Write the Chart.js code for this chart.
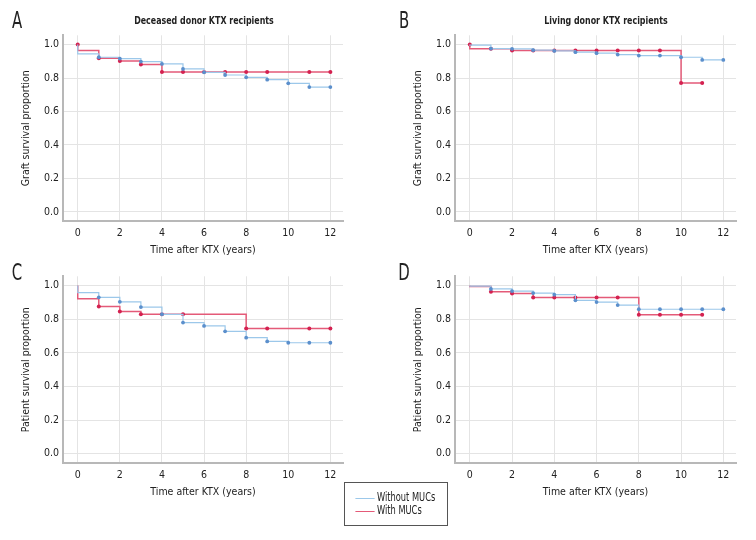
<!DOCTYPE html>
<html lang="en">
<head>
<meta charset="UTF-8">
<title>KTX survival curves</title>
<script src="https://cdn.jsdelivr.net/npm/chart.js"></script>
<style>
  body { margin:0; background:#fff; width:756px; height:540px; position:relative; overflow:hidden;
         font-family:"Liberation Sans Narrow","DejaVu Sans Condensed",sans-serif; color:#222; }
  canvas { position:absolute; }
  .txt { position:absolute; transform:translate(-50%,-50%) scaleX(0.8); line-height:1; white-space:nowrap; }
  .letter { font-size:23px; transform:translate(-50%,-50%) scaleX(0.72); }
  .ptitle { font-size:11px; font-weight:bold; }
  .legend { position:absolute; left:344px; top:482px; width:104px; height:44px; border:1px solid #555;
            box-sizing:border-box; font-size:11.5px; }
  .legend div { position:absolute; left:32px; line-height:1; white-space:nowrap;
                transform:scaleX(0.8); transform-origin:0 50%; }
  .legend span { position:absolute; left:-27px; top:6px; width:24px; height:0; }
</style>
</head>
<body>

<canvas id="cA" width="378" height="270" style="left:0;top:0"></canvas>
<canvas id="cB" width="378" height="270" style="left:378px;top:0"></canvas>
<canvas id="cC" width="378" height="270" style="left:0;top:270px"></canvas>
<canvas id="cD" width="378" height="270" style="left:378px;top:270px"></canvas>

<div class="txt letter" style="left:17px;top:20px">A</div>
<div class="txt letter" style="left:404px;top:20px">B</div>
<div class="txt letter" style="left:17px;top:272px">C</div>
<div class="txt letter" style="left:404px;top:272px">D</div>
<div class="txt ptitle" style="left:204px;top:20px">Deceased donor KTX recipients</div>
<div class="txt ptitle" style="left:606px;top:20px">Living donor KTX recipients</div>

<div class="legend">
  <div style="top:9px"><span style="border-top:1.5px solid #9cc8ea"></span>Without MUCs</div>
  <div style="top:22px"><span style="border-top:1.5px solid #e45a78"></span>With MUCs</div>
</div>

<script>
// tick values
const xTicks = [0, 2, 4, 6, 8, 10, 12];
const yTicks = [0, 0.2, 0.4, 0.6, 0.8, 1.0];
const seriesNames = ["Without MUCs", "With MUCs"];

// A: deceased donor, graft survival
const aWithoutT = [0, 0, 1, 2, 3, 4, 5, 6, 7, 8, 9, 10, 11, 12];
const aWithoutS = [1.0, 0.944, 0.924, 0.916, 0.898, 0.884, 0.854, 0.834, 0.818, 0.804, 0.79, 0.768, 0.746, 0.746];
const aWithT = [0, 0, 1, 2, 3, 4, 5, 6, 7, 8, 9, 11, 12];
const aWithS = [1.0, 0.964, 0.918, 0.902, 0.88, 0.836, 0.836, 0.836, 0.836, 0.836, 0.836, 0.836, 0.836];

// B: living donor, graft survival
const bWithoutT = [0, 0, 1, 2, 3, 4, 5, 6, 7, 8, 9, 10, 11, 12];
const bWithoutS = [1.0, 0.996, 0.976, 0.974, 0.966, 0.962, 0.954, 0.948, 0.94, 0.934, 0.934, 0.924, 0.908, 0.908];
const bWithT = [0, 0, 1, 2, 3, 4, 5, 6, 7, 8, 9, 10, 11];
const bWithS = [1.0, 0.974, 0.974, 0.964, 0.964, 0.964, 0.964, 0.964, 0.964, 0.964, 0.964, 0.77, 0.77];

// C: deceased donor, patient survival
const cWithoutT = [0, 0, 1, 2, 3, 4, 5, 6, 7, 8, 9, 10, 11, 12];
const cWithoutS = [1.0, 0.958, 0.93, 0.903, 0.872, 0.829, 0.78, 0.76, 0.728, 0.69, 0.668, 0.66, 0.66, 0.66];
const cWithT = [0, 0, 1, 2, 3, 4, 5, 8, 9, 11, 12];
const cWithS = [1.0, 0.921, 0.875, 0.845, 0.829, 0.829, 0.829, 0.744, 0.744, 0.744, 0.744];

// D: living donor, patient survival
const dWithoutT = [0, 0, 1, 2, 3, 4, 5, 6, 7, 8, 9, 10, 11, 12];
const dWithoutS = [1.0, 0.997, 0.98, 0.967, 0.955, 0.946, 0.912, 0.902, 0.884, 0.859, 0.859, 0.859, 0.859, 0.859];
const dWithT = [0, 0, 1, 2, 3, 4, 5, 6, 7, 8, 9, 10, 11];
const dWithS = [1.0, 0.994, 0.963, 0.952, 0.929, 0.929, 0.929, 0.929, 0.929, 0.826, 0.826, 0.826, 0.826];

const FONT = '"Liberation Sans Narrow", "DejaVu Sans Condensed", sans-serif';
const FS = 10.5;
const X_MIN = -0.7, X_MAX = 12.6, Y_MIN = -0.055, Y_MAX = 1.055;

function pts(t, s) {
  return t.map((v, i) => ({ x: v, y: s[i] }));
}

// area = where the plot box sits inside each 378x270 canvas
function makePanel(id, yLabel, area, without, withM, markStart) {
  const W = 378, H = 270, xh = 40;
  new Chart(document.getElementById(id), {
    type: 'line',
    data: {
      datasets: [
        {
          label: seriesNames[0],
          data: pts(without[0], without[1]),
          borderColor: '#9cc8ea', borderWidth: 1.2,
          pointBackgroundColor: '#5b8fcc', pointBorderWidth: 0,
          pointRadius: c => (c.dataIndex < 2 ? 0 : 1.9),
          stepped: 'before', fill: false
        },
        {
          label: seriesNames[1],
          data: pts(withM[0], withM[1]),
          borderColor: '#e45a78', borderWidth: 1.5,
          pointBackgroundColor: '#d42150', pointBorderWidth: 0,
          pointRadius: c => (c.dataIndex === 1 || (c.dataIndex === 0 && !markStart) ? 0 : 2),
          stepped: 'before', fill: false
        }
      ]
    },
    options: {
      responsive: false,
      animation: false,
      devicePixelRatio: 1,
      layout: { padding: { left: 0, right: W - area.right, top: area.top, bottom: H - area.bottom - xh } },
      plugins: { legend: { display: false }, tooltip: { enabled: false } },
      scales: {
        x: {
          type: 'linear', min: X_MIN, max: X_MAX,
          afterBuildTicks: s => { s.ticks = xTicks.map(v => ({ value: v })); },
          afterFit: s => { s.height = xh; s.paddingLeft = 0; s.paddingRight = 0; },
          grid: { color: '#e4e4e4', lineWidth: 1, drawTicks: false },
          border: { display: true, color: '#b8b8b8', width: 2 },
          ticks: { padding: 6, color: '#222', font: { family: FONT, size: FS } },
          title: { display: true, text: 'Time after KTX (years)', color: '#222',
                   font: { family: FONT, size: FS }, padding: { top: 0, bottom: 4.5 } }
        },
        y: {
          type: 'linear', min: Y_MIN, max: Y_MAX,
          afterBuildTicks: s => { s.ticks = yTicks.map(v => ({ value: v })); },
          afterFit: s => { s.width = area.left; s.paddingTop = 0; s.paddingBottom = 0; },
          grid: { color: '#e4e4e4', lineWidth: 1, drawTicks: false },
          border: { display: true, color: '#b8b8b8', width: 2 },
          ticks: { padding: 4, color: '#222', font: { family: FONT, size: FS },
                   callback: v => v.toFixed(1) },
          title: { display: true, text: yLabel, color: '#222',
                   font: { family: FONT, size: FS }, padding: { top: area.left - 36.5 - 6.3, bottom: 0 } }
        }
      }
    }
  });
}

makePanel('cA', 'Graft survival proportion', { left: 63, right: 343, top: 35.3, bottom: 221.2 },
  [aWithoutT, aWithoutS], [aWithT, aWithS], true);
makePanel('cB', 'Graft survival proportion', { left: 77, right: 358, top: 35.3, bottom: 221.2 },
  [bWithoutT, bWithoutS], [bWithT, bWithS], true);
makePanel('cC', 'Patient survival proportion', { left: 63, right: 343, top: 6.3, bottom: 193 },
  [cWithoutT, cWithoutS], [cWithT, cWithS], false);
makePanel('cD', 'Patient survival proportion', { left: 77, right: 358, top: 6.3, bottom: 193 },
  [dWithoutT, dWithoutS], [dWithT, dWithS], false);
</script>
</body>
</html>
